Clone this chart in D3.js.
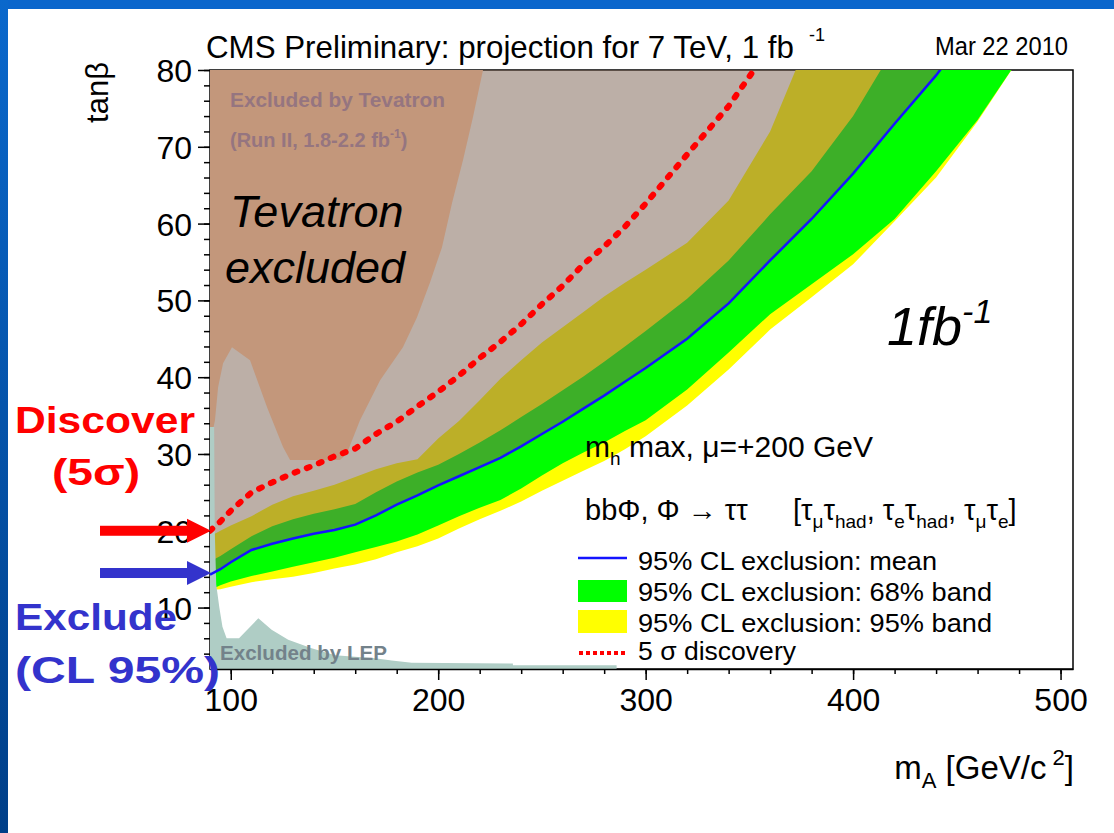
<!DOCTYPE html>
<html>
<head>
<meta charset="utf-8">
<script src="https://cdn.jsdelivr.net/npm/d3@7"></script>
<style>
  body { margin: 0; background: #fff; }
  svg text { font-family: "Liberation Sans", Arial, Helvetica, sans-serif; }
</style>
</head>
<body>
<script>
// mass grid shared by the exclusion curves (GeV)
const mA = [90, 95, 100, 110, 120, 130, 140, 150, 160, 170, 180, 190, 200, 210, 220, 230, 240,
            250, 260, 270, 280, 290, 300, 320, 340, 360, 380, 400, 420, 440, 460, 480, 500];

// 95% CL exclusion: mean
const meanTanb = [14.3, 15.0, 15.9, 17.5, 18.3, 19.0, 19.6, 20.1, 20.8, 22.0, 23.4, 24.6, 25.9, 27.1, 28.3, 29.5, 31.0,
                  32.6, 34.2, 35.9, 37.6, 39.4, 41.2, 45.0, 49.6, 55.2, 60.6, 66.5, 73.0, 79.3, 86.5, 94, 102];
// 68% band
const band68Up = [16.0, 16.7, 17.6, 19.3, 20.6, 21.5, 22.2, 22.8, 23.5, 25.0, 26.4, 27.6, 28.6, 30.0, 31.5, 33.1, 34.8,
                  36.5, 38.3, 40.1, 42.0, 44.0, 46.0, 50.2, 55.2, 61.2, 66.8, 74.0, 83, 92, 100, 110, 120];
const band68Lo = [12.3, 12.9, 13.4, 14.1, 14.7, 15.3, 15.9, 16.5, 17.2, 17.9, 18.6, 19.5, 20.7, 21.9, 23.0, 24.0, 25.5,
                  27.2, 28.8, 30.2, 31.5, 33.0, 34.4, 38.4, 43.2, 48.2, 52.1, 56.0, 60.6, 66.8, 73.5, 81.5, 90];
// 95% band
const band95Up = [19.3, 20.0, 20.7, 21.9, 23.4, 24.5, 25.2, 26.0, 27.0, 28.0, 28.8, 29.3, 32.0, 34.3, 37.0, 39.8, 42.2,
                  44.5, 46.5, 48.5, 50.5, 52.3, 54.0, 57.5, 63.0, 72.0, 85, 96, 106, 116, 125, 133, 140];
const band95Lo = [12.3, 12.4, 12.7, 13.3, 13.7, 14.0, 14.5, 15.1, 15.6, 16.3, 17.2, 18.0, 19.0, 20.3, 21.5, 22.6, 23.8,
                  25.2, 26.5, 27.8, 29.1, 30.6, 32.3, 36.3, 41.0, 46.2, 50.4, 54.7, 60.3, 66.0, 73.3, 81.5, 90];

// 5 sigma discovery
const discMass = [90, 95, 100, 110, 120, 130, 140, 150, 160, 170, 180, 190, 200, 210, 220, 230, 240,
                  250, 260, 270, 280, 290, 300, 320, 340, 360];
const discTanb = [20.0, 21.2, 22.6, 25.0, 26.3, 27.5, 28.5, 29.7, 30.7, 32.6, 34.2, 36.2, 38.1, 40.2, 42.5, 44.6, 46.9,
                  49.5, 51.9, 54.7, 57.0, 59.6, 62.6, 69.0, 75.3, 83];

// Tevatron excluded region (boundary, top right -> down -> left edge)
const tevMass = [90, 221.6, 216.8, 212, 206.7, 201.8, 196, 189.8, 183, 172, 162.3, 158.5, 156, 152.7, 128.6, 125.2,
                 117.5, 109.3, 100.6, 96.3, 93.9, 92.4, 91.4, 90];
const tevTanb = [80, 80, 73.9, 68.3, 62.7, 56.9, 52.3, 47.8, 43.9, 39.6, 34.4, 31.8, 30.1, 29.2, 29.2, 30.9,
                 36.1, 42.2, 43.9, 41.8, 38.7, 34.4, 33.1, 33.1];

// LEP excluded region
const lepMass = [90, 90, 92, 92.3, 93, 94.5, 96, 98, 104, 113.3, 119.7, 127.7, 139, 150.3, 169.5, 177.6, 187.2,
                 236, 236, 286, 286];
const lepTanb = [2, 33.5, 33.5, 20, 13, 10, 7.5, 6, 6, 8.6, 7.1, 5.8, 4.7, 3.8, 3.4, 3.1, 2.8,
                 2.7, 2.5, 2.5, 2];

const xMajor = [100, 200, 300, 400, 500];
const yMajor = [10, 20, 30, 40, 50, 60, 70, 80];
const legendLabels = ["95% CL exclusion: mean", "95% CL exclusion: 68% band",
                      "95% CL exclusion: 95% band", "5 \u03c3 discovery"];

const width = 1114, height = 833;
const plot = { left: 210, right: 1073, top: 70, bottom: 669 };

const svg = d3.select("body").append("svg")
    .attr("width", width)
    .attr("height", height);

const defs = svg.append("defs");

defs.append("clipPath").attr("id", "plotClip")
  .append("rect")
    .attr("x", plot.left).attr("y", plot.top)
    .attr("width", plot.right - plot.left)
    .attr("height", plot.bottom - plot.top);

const grad = defs.append("linearGradient")
    .attr("id", "sideGrad")
    .attr("x1", 0).attr("y1", 0).attr("x2", 0).attr("y2", 1);
grad.append("stop").attr("offset", "0%").attr("stop-color", "#0a68cc");
grad.append("stop").attr("offset", "100%").attr("stop-color", "#003f88");

// slide background
svg.append("rect").attr("width", width).attr("height", height).attr("fill", "#fff");
svg.append("rect").attr("width", width).attr("height", 9).attr("fill", "#0a66cc");
svg.append("rect").attr("width", 8).attr("height", height).attr("fill", "url(#sideGrad)");

const x = d3.scaleLinear().domain([90, 506]).range([plot.left, plot.right]);
const y = d3.scaleLinear().domain([2, 80]).range([plot.bottom, plot.top]);

// frame (drawn first, fills cover it like in the original)
svg.append("rect")
    .attr("x", plot.left).attr("y", plot.top)
    .attr("width", plot.right - plot.left)
    .attr("height", plot.bottom - plot.top)
    .attr("fill", "none")
    .attr("stroke", "#000")
    .attr("stroke-width", 1.5);

const g = svg.append("g").attr("clip-path", "url(#plotClip)");

const band = (lo, hi) => d3.area()
    .x((d, i) => x(mA[i]))
    .y0((d, i) => y(lo[i]))
    .y1((d, i) => y(hi[i]));

g.append("path").datum(mA).attr("d", band(band95Lo, band95Up)).attr("fill", "#ffff00");
g.append("path").datum(mA).attr("d", band(band68Lo, band68Up)).attr("fill", "#00ff00");

// excluded-on-average region above the mean curve (stippled in the original)
g.append("path").datum(mA)
    .attr("d", d3.area()
        .x((d, i) => x(mA[i]))
        .y0(() => y(90))
        .y1((d, i) => y(meanTanb[i])))
    .attr("fill", "#7a6050")
    .attr("fill-opacity", 0.5);

const poly = (ms, ts) => d3.line()
    .x((d, i) => x(ms[i]))
    .y((d, i) => y(ts[i]))(ms) + "Z";

g.append("path").attr("d", poly(tevMass, tevTanb)).attr("fill", "#c3977b");
g.append("path").attr("d", poly(lepMass, lepTanb)).attr("fill", "#afcdc5");

g.append("path").datum(mA)
    .attr("d", d3.line().x((d, i) => x(mA[i])).y((d, i) => y(meanTanb[i])))
    .attr("fill", "none")
    .attr("stroke", "#1414ff")
    .attr("stroke-width", 2.5);

g.append("path").datum(discMass)
    .attr("d", d3.line().x((d, i) => x(discMass[i])).y((d, i) => y(discTanb[i])))
    .attr("fill", "none")
    .attr("stroke", "#ff0000")
    .attr("stroke-width", 6)
    .attr("stroke-linecap", "round")
    .attr("stroke-dasharray", "3,10");

// axes
const xMinor = d3.range(100, 501, 20);
const yMinor = d3.range(4, 81, 2);

const xAxisMinor = svg.append("g")
    .attr("transform", `translate(0,${plot.bottom})`)
    .call(d3.axisBottom(x).tickValues(xMinor).tickSize(5).tickSizeOuter(0).tickFormat(""));
xAxisMinor.select(".domain").remove();

const xAxis = svg.append("g")
    .attr("transform", `translate(0,${plot.bottom})`)
    .call(d3.axisBottom(x).tickValues(xMajor).tickSize(11).tickSizeOuter(0));
xAxis.select(".domain").attr("stroke-width", 1.5);
xAxis.selectAll("text")
    .attr("y", 42).attr("dy", 0)
    .attr("font-size", 32)
    .attr("fill", "#000");

svg.append("g")
    .attr("transform", `translate(${plot.left},0)`)
    .call(d3.axisLeft(y).tickValues(yMinor).tickSize(6).tickFormat(""))
    .select(".domain").remove();

const yAxis = svg.append("g")
    .attr("transform", `translate(${plot.left},0)`)
    .call(d3.axisLeft(y).tickValues(yMajor).tickSize(12).tickPadding(6));
yAxis.select(".domain").remove();
yAxis.selectAll("text")
    .attr("font-size", 32)
    .attr("dy", "0.36em")
    .attr("fill", "#000");
svg.selectAll(".tick line").attr("stroke-width", 1.5);

// axis titles
svg.append("text")
    .attr("transform", "translate(108,62) rotate(-90)")
    .attr("text-anchor", "end")
    .attr("font-size", 31)
    .text("tan\u03b2");

const xt = svg.append("text")
    .attr("x", 1074).attr("y", 779)
    .attr("text-anchor", "end")
    .attr("font-size", 33);
xt.append("tspan").text("m");
xt.append("tspan").attr("font-size", 22).attr("dy", 9).text("A");
xt.append("tspan").attr("dy", -9).text("  [GeV/c");
xt.append("tspan").attr("font-size", 22).attr("dy", -14).text(" 2");
xt.append("tspan").attr("dy", 14).text("]");

// title and date
svg.append("text").attr("x", 206).attr("y", 58).attr("font-size", 31.3)
    .text("CMS Preliminary: projection for 7 TeV, 1 fb");
svg.append("text").attr("x", 809).attr("y", 41).attr("font-size", 18).text("-1");

svg.append("text").attr("x", 935).attr("y", 55).attr("font-size", 25)
    .attr("textLength", 133).attr("lengthAdjust", "spacingAndGlyphs")
    .text("Mar 22 2010");

// region labels
const tevCol = "#957580";
svg.append("text").attr("x", 230).attr("y", 107)
    .attr("font-size", 20).attr("font-weight", "bold").attr("fill", tevCol)
    .attr("textLength", 215).attr("lengthAdjust", "spacingAndGlyphs")
    .text("Excluded by Tevatron");
const run2 = svg.append("text").attr("x", 230).attr("y", 147)
    .attr("font-size", 20).attr("font-weight", "bold").attr("fill", tevCol);
run2.append("tspan").text("(Run II, 1.8-2.2 fb");
run2.append("tspan").attr("font-size", 12).attr("dy", -9).text("-1");
run2.append("tspan").attr("dy", 9).text(")");

svg.append("text").attr("x", 220).attr("y", 660)
    .attr("font-size", 21).attr("font-weight", "bold").attr("fill", "#73828a")
    .attr("textLength", 167).attr("lengthAdjust", "spacingAndGlyphs")
    .text("Excluded by LEP");

svg.append("text").attr("x", 230).attr("y", 227)
    .attr("font-size", 45).attr("font-style", "italic").text("Tevatron");
svg.append("text").attr("x", 225).attr("y", 283)
    .attr("font-size", 45).attr("font-style", "italic").text("excluded");

const lumi = svg.append("text").attr("x", 887).attr("y", 345)
    .attr("font-size", 54).attr("font-style", "italic");
lumi.append("tspan").text("1fb");
lumi.append("tspan").attr("font-size", 34).attr("dy", -22).text("-1");

// model text
const mh = svg.append("text").attr("x", 585).attr("y", 457).attr("font-size", 30);
mh.append("tspan").text("m");
mh.append("tspan").attr("font-size", 19).attr("dy", 8).text("h");
mh.append("tspan").attr("dy", -8).text(" max, \u03bc=+200 GeV");

const ch = svg.append("text").attr("x", 585).attr("y", 520).attr("font-size", 29);
const sub = (t) => { ch.append("tspan").attr("font-size", 19).attr("dy", 8).text(t); };
const base = (t) => { ch.append("tspan").attr("dy", -8).text(t); };
ch.append("tspan").text("bb\u03a6, \u03a6 \u2192 \u03c4\u03c4");
ch.append("tspan").attr("x", 793).text("[\u03c4");
sub("\u03bc"); base("\u03c4"); sub("had"); base(", \u03c4");
sub("e"); base("\u03c4"); sub("had"); base(", \u03c4");
sub("\u03bc"); base("\u03c4"); sub("e"); base("]");

// legend
const lg = svg.append("g").attr("transform", "translate(578,0)");
const rowY = [570, 601, 632, 660];
lg.append("line").attr("x1", 0).attr("x2", 49).attr("y1", 558).attr("y2", 558)
    .attr("stroke", "#1414ff").attr("stroke-width", 2.5);
lg.append("rect").attr("x", 0).attr("y", 580).attr("width", 49).attr("height", 22).attr("fill", "#00ff00");
lg.append("rect").attr("x", 0).attr("y", 610).attr("width", 49).attr("height", 23).attr("fill", "#ffff00");
lg.append("line").attr("x1", 1).attr("x2", 48).attr("y1", 653).attr("y2", 653)
    .attr("stroke", "#ff0000").attr("stroke-width", 4).attr("stroke-dasharray", "4,3");
lg.selectAll("text.leg")
    .data(legendLabels)
    .enter()
    .append("text")
    .attr("class", "leg")
    .attr("x", 60)
    .attr("y", (d, i) => rowY[i])
    .attr("font-size", 26)
    .attr("textLength", (d, i) => [299, 354, 354, 158][i])
    .attr("lengthAdjust", "spacingAndGlyphs")
    .text(d => d);

// slide annotations
const red = "#ff0000", blue = "#3333cc";
const ann = svg.append("g").style("font-family", "'DejaVu Sans', Verdana, sans-serif").attr("font-weight", "bold");
ann.append("text").attr("x", 15).attr("y", 433).attr("font-size", 37).attr("fill", red)
    .attr("textLength", 180).attr("lengthAdjust", "spacingAndGlyphs").text("Discover");
ann.append("text").attr("x", 52).attr("y", 485).attr("font-size", 37).attr("fill", red)
    .attr("textLength", 88).attr("lengthAdjust", "spacingAndGlyphs").text("(5\u03c3)");
ann.append("text").attr("x", 15).attr("y", 630).attr("font-size", 37).attr("fill", blue)
    .attr("textLength", 162).attr("lengthAdjust", "spacingAndGlyphs").text("Exclude");
ann.append("text").attr("x", 15).attr("y", 683).attr("font-size", 37).attr("fill", blue)
    .attr("textLength", 205).attr("lengthAdjust", "spacingAndGlyphs").text("(CL 95%)");

// arrows pointing at the curve starts
const arrow = (ty, col) => {
    const yy = y(ty);
    svg.append("rect").attr("x", 100).attr("y", yy - 5).attr("width", 88).attr("height", 10).attr("fill", col);
    svg.append("path")
        .attr("d", `M187,${yy - 12}L${plot.left + 1},${yy}L187,${yy + 12}Z`)
        .attr("fill", col);
};
arrow(discTanb[0], red);
arrow(meanTanb[0] + 0.2, blue);
</script>
</body>
</html>
